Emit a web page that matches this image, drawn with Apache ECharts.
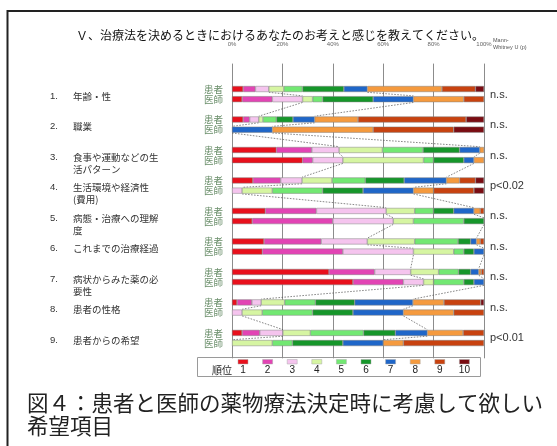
<!DOCTYPE html>
<html>
<head>
<meta charset="utf-8">
<script src="https://cdn.jsdelivr.net/npm/echarts@6.0.0/dist/echarts.min.js"></script>
<style>
html,body{margin:0;padding:0;background:#fff;}
#chart{width:557px;height:446px;}
</style>
</head>
<body>
<div id="chart"></div>
<script>
// ---------- data ----------
const items = [
  '年齢・性',
  '職業',
  '食事や運動などの生\n活パターン',
  '生活環境や経済性\n(費用)',
  '病態・治療への理解\n度',
  'これまでの治療経過',
  '病状からみた薬の必\n要性',
  '患者の性格',
  '患者からの希望'
];
const groups = ['患者', '医師'];
const pValues = ['n.s.', 'n.s.', 'n.s.', 'p<0.02', 'n.s.', 'n.s.', 'n.s.', 'n.s.', 'p<0.01'];
const ranks = ['1', '2', '3', '4', '5', '6', '7', '8', '9', '10'];
const rankColors = ['#e8101c', '#e244b4', '#f5c4ee', '#d6f5a2', '#72e872', '#16962a', '#1f66c8', '#f59a3e', '#c8420f', '#7a0c12'];
// share (%) of each rank 1..10, one row per item
const patientShares = [
  [4.4, 4.9, 5.3, 6.0, 7.4, 16.4, 9.3, 29.6, 13.3, 3.4],
  [4.4, 2.6, 3.6, 1.7, 5.3, 6.6, 8.6, 17.2, 42.9, 7.1],
  [17.6, 14.1, 10.8, 17.2, 16.1, 14.5, 8.0, 1.7, 0, 0],
  [8.3, 11.0, 8.5, 11.9, 13.2, 15.4, 16.8, 5.2, 6.3, 3.4],
  [13.2, 20.3, 27.7, 11.3, 7.5, 8.0, 8.0, 2.5, 1.5, 0],
  [12.7, 22.7, 18.3, 18.8, 17.2, 5.0, 2.3, 1.5, 1.5, 0],
  [38.5, 18.1, 14.3, 11.1, 7.9, 4.8, 3.2, 1.0, 1.1, 0],
  [2.0, 5.9, 3.7, 9.3, 12.2, 15.6, 23.1, 12.3, 14.6, 1.3],
  [4.0, 7.0, 9.2, 10.9, 21.1, 12.6, 12.7, 14.2, 8.3, 0]
];
const doctorShares = [
  [4, 12, 12, 4, 4, 20, 16, 20, 8, 0],
  [0, 0, 0, 0, 0, 0, 16, 40, 32, 12],
  [28, 4, 12, 32, 4, 12, 4, 4, 0, 0],
  [0, 0, 4, 12, 20, 16, 20, 8, 16, 4],
  [8, 32, 24, 8, 20, 8, 0, 0, 0, 0],
  [12, 32, 28, 16, 4, 4, 4, 0, 0, 0],
  [48, 20, 8, 4, 12, 4, 4, 0, 0, 0],
  [0, 0, 4, 8, 20, 16, 20, 20, 12, 0],
  [0, 0, 0, 16, 8, 20, 16, 8, 32, 0]
];
const seriesLineRanks = [3, 7]; // series lines drawn at the end of these ranks
const titleText = 'Ｖ、治療法を決めるときにおけるあなたのお考えと感じを教えてください。';
const testName = 'Mann-\nWhitney U (p)';
const legendTitle = '順位';
const captionText = '図４：患者と医師の薬物療法決定時に考慮して欲しい\n希望項目';

// ---------- build slots ----------
const slots = [{type: 'gap'}, {type: 'gap'}];
items.forEach((it, i) => {
  slots.push({type: 'p', item: i});
  slots.push({type: 'd', item: i});
  slots.push({type: 'gap'});
});
const slotIds = slots.map((s, i) => 'slot' + i);
const shareOf = s => s.type === 'p' ? patientShares[s.item] : doctorShares[s.item];
const nz = v => v > 0 ? v : '-';

const barSeries = ranks.map((r, k) => ({
  name: r,
  type: 'bar',
  stack: 'all',
  xAxisIndex: 0,
  yAxisIndex: 0,
  barWidth: 6,
  silent: true,
  itemStyle: {color: rankColors[k], borderColor: '#808080', borderWidth: 0.5},
  data: slots.map(s => s.type === 'gap' ? '-' : nz(shareOf(s)[k]))
}));

const barSlots = slots.map((s, i) => Object.assign({idx: i}, s)).filter(s => s.type !== 'gap');
const cum = (arr, n) => arr.slice(0, n).reduce((a, b) => a + b, 0);
const seriesLineData = [];
for (let j = 0; j < barSlots.length - 1; j++) {
  const a = barSlots[j], b = barSlots[j + 1];
  seriesLineRanks.forEach(n => {
    seriesLineData.push([cum(shareOf(a), n), a.idx, cum(shareOf(b), n), b.idx]);
  });
}

const legendX0 = 243, legendStep = 24.6;
const legendGraphics = [];
ranks.forEach((r, k) => {
  const cx = legendX0 + k * legendStep;
  legendGraphics.push({type: 'rect', shape: {x: cx - 5, y: 359.5, width: 10, height: 4.5},
    style: {fill: rankColors[k], stroke: '#aaa', lineWidth: 0.5}});
  legendGraphics.push({type: 'text', style: {text: r, x: cx, y: 370.5, align: 'center', verticalAlign: 'middle',
    font: "10px 'Liberation Sans',sans-serif", fill: '#222'}});
});

const chart = echarts.init(document.getElementById('chart'), null, {renderer: 'canvas'});
chart.setOption({
  animation: false,
  backgroundColor: '#fff',
  title: [
    {text: titleText, left: 76, top: 29, padding: 0,
     textStyle: {fontFamily: "'Noto Sans CJK JP',sans-serif", fontSize: 12, fontWeight: 'normal', color: '#111', lineHeight: 13}},
    {text: testName, left: 493, top: 37, padding: 0,
     textStyle: {fontFamily: "'Liberation Sans',sans-serif", fontSize: 5.5, fontWeight: 'normal', color: '#555', lineHeight: 7}}
  ],
  grid: {left: 232, right: 73, top: 63.6, bottom: 87.7, containLabel: false},
  xAxis: {
    type: 'value', position: 'top', min: 0, max: 100, interval: 20,
    axisLine: {show: false}, axisTick: {show: false},
    axisLabel: {formatter: '{value}%', fontSize: 6, color: '#666', margin: 16, fontFamily: "'Liberation Sans',sans-serif"},
    splitLine: {show: true, lineStyle: {color: '#8c8c8c', width: 1}}
  },
  yAxis: [
    {
      type: 'category', inverse: true, data: slotIds, position: 'left',
      axisLine: {show: false}, axisTick: {show: false}, splitLine: {show: false},
      axisLabel: {interval: 0, margin: 9, fontSize: 9.5, color: '#6a8e6a', fontFamily: "'Noto Sans CJK JP',sans-serif",
        formatter: (v, i) => slots[i].type === 'p' ? groups[0] : slots[i].type === 'd' ? groups[1] : ''}
    },
    {
      type: 'category', inverse: true, data: slotIds, position: 'left',
      axisLine: {show: false}, axisTick: {show: false}, splitLine: {show: false},
      axisLabel: {interval: 0, margin: 182, align: 'left', verticalAlign: 'top', padding: [1, 0, 0, 0],
        formatter: (v, i) => {
          const s = slots[i];
          if (s.type !== 'p') return '';
          const lines = items[s.item].split('\n');
          return lines.map((ln, li) => '{n|' + (li === 0 ? (s.item + 1) + '.' : '') + '}{t|' + ln + '}').join('\n');
        },
        rich: {
          n: {width: 23, fontSize: 9.5, lineHeight: 12, color: '#333', fontFamily: "'Liberation Sans',sans-serif"},
          t: {fontSize: 9.5, lineHeight: 12, color: '#333', fontFamily: "'Noto Sans CJK JP',sans-serif"}
        }}
    },
    {
      type: 'category', inverse: true, data: slotIds, position: 'right',
      axisLine: {show: false}, axisTick: {show: false}, splitLine: {show: false},
      axisLabel: {interval: 0, margin: 6, align: 'left', verticalAlign: 'top', lineHeight: 11, fontSize: 11,
        color: '#333', fontFamily: "'Liberation Sans',sans-serif",
        formatter: (v, i) => slots[i].type === 'p' ? pValues[slots[i].item] : ''}
    }
  ],
  series: barSeries.concat([{
    type: 'custom',
    name: 'series lines',
    coordinateSystem: 'cartesian2d',
    xAxisIndex: 0, yAxisIndex: 0,
    silent: true,
    encode: {x: [0, 2], y: [1, 3]},
    data: seriesLineData,
    z: 1,
    renderItem: (params, api) => {
      const p1 = api.coord([api.value(0), api.value(1)]);
      const p2 = api.coord([api.value(2), api.value(3)]);
      const h = 3.3;
      return {type: 'line', shape: {x1: p1[0], y1: p1[1] + h, x2: p2[0], y2: p2[1] - h},
        style: {stroke: '#555', lineWidth: 0.7, lineDash: [1.6, 1.4]}};
    }
  }]),
  graphic: [
    {type: 'rect', shape: {x: 7.5, y: 11, width: 570, height: 500},
     style: {fill: null, stroke: '#222', lineWidth: 2}, z: 100},
    {type: 'rect', shape: {x: 197.5, y: 357.5, width: 283, height: 19},
     style: {fill: '#fff', stroke: '#9a9a9a', lineWidth: 1}},
    {type: 'text', style: {text: legendTitle, x: 222, y: 370, align: 'center', verticalAlign: 'middle',
      font: "10px 'Noto Sans CJK JP',sans-serif", fill: '#222'}},
    {type: 'text', style: {text: captionText, x: 27, y: 391.5, align: 'left', verticalAlign: 'top',
      font: "21.5px 'Noto Sans CJK JP',sans-serif", lineHeight: 23, fill: '#222'}}
  ].concat(legendGraphics)
});
</script>
</body>
</html>
